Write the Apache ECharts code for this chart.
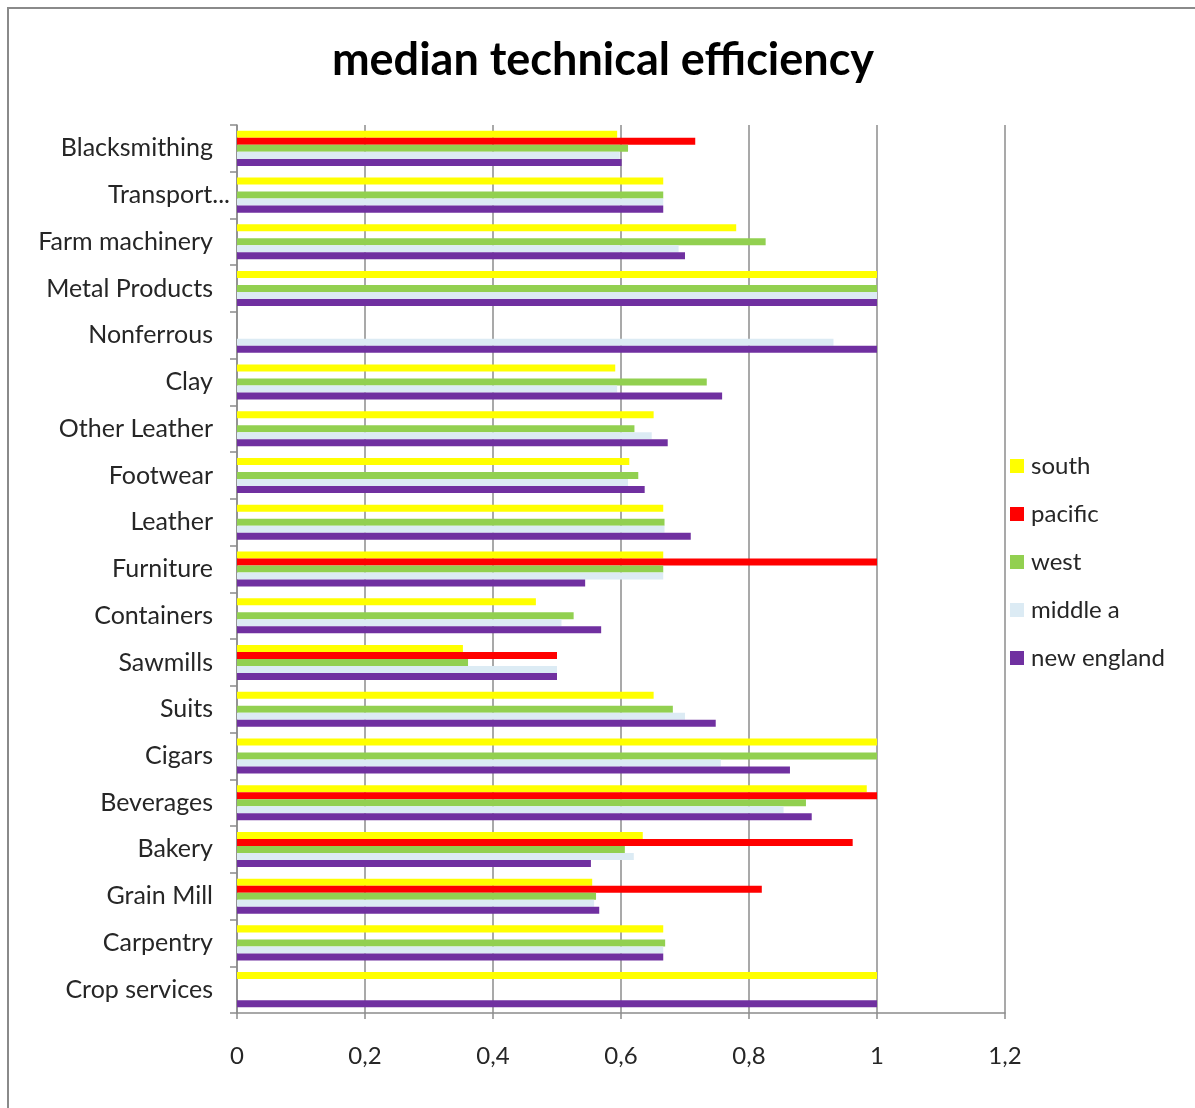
<!DOCTYPE html>
<html>
<head>
<meta charset="utf-8">
<title>median technical efficiency</title>
<script src="https://cdn.jsdelivr.net/npm/echarts@6/dist/echarts.min.js"></script>
<style>
  html, body { margin: 0; padding: 0; background: #ffffff; }
  #chart { width: 1195px; height: 1108px; }
</style>
</head>
<body>
<div id="chart"></div>
<script>
// Industries, listed top to bottom
const categories = [
  'Blacksmithing', 'Transport...', 'Farm machinery', 'Metal Products', 'Nonferrous',
  'Clay', 'Other Leather', 'Footwear', 'Leather', 'Furniture', 'Containers',
  'Sawmills', 'Suits', 'Cigars', 'Beverages', 'Bakery', 'Grain Mill',
  'Carpentry', 'Crop services'
];

// Median technical efficiency per region (null = no observation)
const south      = [0.594, 0.666, 0.780, 1.000, null, 0.591, 0.651, 0.613, 0.666, 0.666, 0.467, 0.353, 0.651, 1.000, 0.984, 0.634, 0.555, 0.666, 1.000];
const pacific    = [0.716, null,  null,  null,  null, null,  null,  null,  null,  1.000, null,  0.500, null,  null,  1.000, 0.962, 0.820, null,  null];
const west       = [0.611, 0.666, 0.826, 1.000, null, 0.734, 0.621, 0.627, 0.668, 0.666, 0.526, 0.361, 0.681, 1.000, 0.889, 0.606, 0.561, 0.669, null];
const middleA    = [0.598, 0.666, 0.690, 1.000, 0.932, 0.594, 0.648, 0.611, 0.668, 0.666, 0.507, 0.500, 0.700, 0.756, 0.854, 0.620, 0.558, 0.666, null];
const newEngland = [0.601, 0.666, 0.700, 1.000, 1.000, 0.758, 0.673, 0.637, 0.709, 0.544, 0.569, 0.500, 0.748, 0.864, 0.898, 0.553, 0.566, 0.666, 1.000];

const xTicks = { min: 0, max: 1.2, step: 0.2 };

const seriesDefs = [
  { name: 'south',       data: south,      color: '#FFFF00' },
  { name: 'pacific',     data: pacific,    color: '#FF0000' },
  { name: 'west',        data: west,       color: '#92D050' },
  { name: 'middle a',    data: middleA,    color: '#DCEBF4' },
  { name: 'new england', data: newEngland, color: '#7030A0' }
];

const FONT = 'Lato, "Open Sans", "Noto Sans", sans-serif';
const TEXT = '#262626';
const GRID_GRAY = '#8c8c8c';

// The truncated label overhangs toward the axis a little
const yCategoryData = categories.map(c => c.endsWith('...')
  ? { value: c, textStyle: { padding: [0, -17, 0, 0] } }
  : c);

const chart = echarts.init(document.getElementById('chart'), null, { renderer: 'canvas' });

chart.setOption({
  backgroundColor: '#ffffff',
  animation: false,
  textStyle: { fontFamily: FONT },
  graphic: [{
    type: 'rect',
    shape: { x: 8, y: 8, width: 1200, height: 1110 },
    style: { fill: null, stroke: '#8a8a8a', lineWidth: 2 },
    silent: true,
    z: -1
  }],
  title: {
    text: 'median technical efficiency',
    left: 598,
    textAlign: 'center',
    top: 33,
    textStyle: { fontFamily: FONT, fontWeight: 'bold', fontSize: 45, color: '#000000' }
  },
  legend: {
    orient: 'vertical',
    left: 1005,
    top: 449,
    icon: 'rect',
    itemWidth: 14,
    itemHeight: 14,
    itemGap: 24,
    data: seriesDefs.map(s => s.name),
    textStyle: { fontFamily: FONT, fontSize: 24, color: TEXT, padding: [0, 0, 0, 2] }
  },
  grid: { left: 237, right: 190, top: 125, bottom: 95, containLabel: false },
  xAxis: {
    type: 'value',
    min: xTicks.min,
    max: xTicks.max,
    interval: xTicks.step,
    axisLine: { show: true, lineStyle: { color: GRID_GRAY, width: 1.5 } },
    axisTick: { show: true, length: 6, lineStyle: { color: GRID_GRAY, width: 1.5 } },
    axisLabel: {
      margin: 31,
      fontSize: 24,
      color: TEXT,
      fontFamily: FONT,
      formatter: v => String(Math.round(v * 10) / 10).replace('.', ',')
    },
    splitLine: { show: true, lineStyle: { color: GRID_GRAY, width: 1.5 } }
  },
  yAxis: {
    type: 'category',
    inverse: true,
    data: yCategoryData,
    axisLine: { show: true, lineStyle: { color: GRID_GRAY, width: 1.5 } },
    axisTick: { show: true, length: 7, lineStyle: { color: GRID_GRAY, width: 1.5 } },
    axisLabel: { margin: 24, fontSize: 25, color: TEXT, fontFamily: FONT },
    splitLine: { show: false }
  },
  series: seriesDefs.map(s => ({
    name: s.name,
    type: 'bar',
    data: s.data,
    barGap: '0%',
    barCategoryGap: '25%',
    itemStyle: { color: s.color },
    emphasis: { disabled: true }
  }))
});
</script>
</body>
</html>
